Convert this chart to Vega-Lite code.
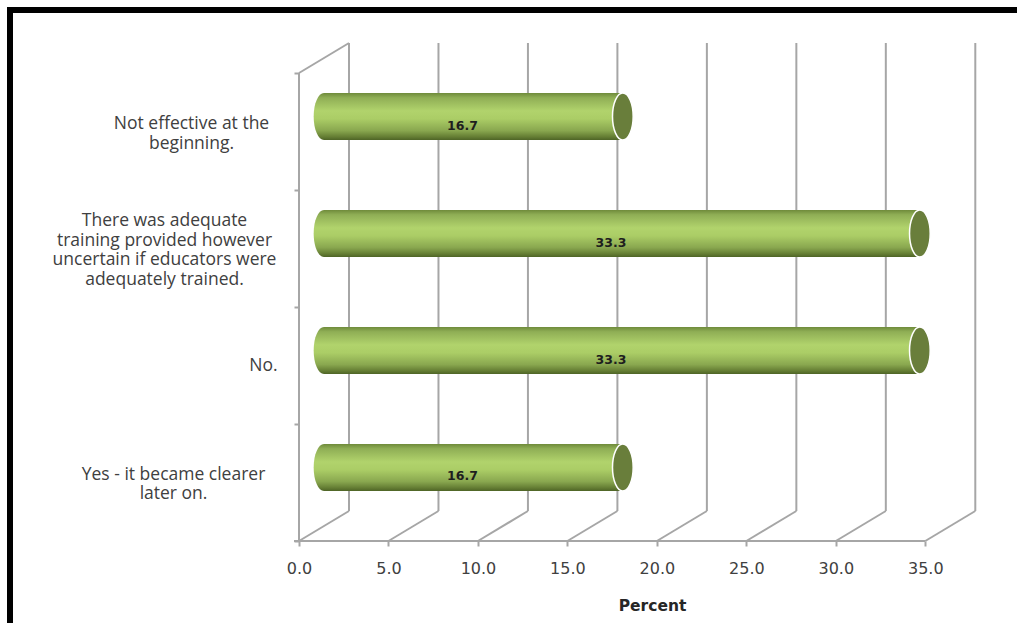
{
  "$schema": "https://vega.github.io/schema/vega-lite/v6.json",
  "width": 1007,
  "height": 613,
  "autosize": {"type": "none"},
  "padding": {"left": 10, "top": 10, "right": 0, "bottom": 0},
  "background": "white",
  "config": {
    "view": {"stroke": "#000000", "strokeWidth": 6, "strokeDash": [1007, 1620, 613, 0], "strokeCap": "square", "fill": "white"}
  },
  "datasets": {
    "answers": [
      {"answer": "Not effective at the\nbeginning.", "percent": 16.7},
      {"answer": "There was adequate\ntraining provided however\nuncertain if educators were\nadequately trained.", "percent": 33.3},
      {"answer": "No.", "percent": 33.3},
      {"answer": "Yes - it became clearer\nlater on.", "percent": 16.7}
    ],
    "ticks": [{"t": 0}, {"t": 5}, {"t": 10}, {"t": 15}, {"t": 20}, {"t": 25}, {"t": 30}, {"t": 35}]
  },
  "resolve": {"scale": {"x": "independent", "y": "independent"}},
  "layer": [
    {
      "layer": [
        {
          "data": {"name": "ticks"},
          "mark": {"type": "rule", "color": "#a6a6a6", "strokeWidth": 2, "xOffset": 50, "yOffset": -30, "y2Offset": -30},
          "encoding": {
            "x": {"field": "t", "type": "quantitative", "scale": {"domain": [-16.1507, 40.1252], "nice": false, "zero": false}, "axis": null},
            "y": {"datum": 0, "type": "quantitative", "scale": {"domain": [-0.70085, 4.53846], "nice": false, "zero": false}, "axis": null},
            "y2": {"datum": 4}
          }
        },
        {
          "data": {"name": "ticks"},
          "mark": {"type": "rule", "color": "#a6a6a6", "strokeWidth": 2, "x2Offset": 50, "y2Offset": -30},
          "encoding": {
            "x": {"field": "t", "type": "quantitative"},
            "x2": {"field": "t"},
            "y": {"datum": 0, "type": "quantitative"},
            "y2": {"datum": 0}
          }
        },
        {
          "data": {"values": [{}]},
          "mark": {"type": "rule", "color": "#a6a6a6", "strokeWidth": 2, "x2Offset": 50, "y2Offset": -30},
          "encoding": {
            "x": {"datum": 0, "type": "quantitative"},
            "x2": {"datum": 0},
            "y": {"datum": 4, "type": "quantitative"},
            "y2": {"datum": 4}
          }
        },
        {
          "data": {"values": [{}]},
          "mark": {"type": "rule", "color": "#a6a6a6", "strokeWidth": 2},
          "encoding": {
            "x": {"datum": 0, "type": "quantitative"},
            "y": {"datum": 0, "type": "quantitative"},
            "y2": {"datum": 4}
          }
        },
        {
          "data": {"values": [{}]},
          "mark": {"type": "rule", "color": "#a6a6a6", "strokeWidth": 2},
          "encoding": {
            "x": {"datum": 0, "type": "quantitative"},
            "x2": {"datum": 35},
            "y": {"datum": 0, "type": "quantitative"}
          }
        },
        {
          "data": {"values": [{}]},
          "mark": {"type": "rule", "color": "#a6a6a6", "strokeWidth": 2, "x2Offset": -5},
          "encoding": {
            "x": {"datum": 0, "type": "quantitative"},
            "x2": {"datum": 0},
            "y": {"datum": 0, "type": "quantitative"},
            "y2": {"datum": 0}
          }
        }
      ]
    },
    {
      "data": {"name": "answers"},
      "layer": [
        {
          "mark": {
            "type": "point",
            "shape": "M0,-1A0.44,1,0,1,1,0,1A0.44,1,0,1,1,0,-1Z",
            "size": 2209,
            "filled": true,
            "opacity": 1,
            "strokeWidth": 0,
            "xOffset": 25,
            "yOffset": -15,
            "fill": {"gradient": "linear", "x1": 0, "y1": 0, "x2": 0, "y2": 1, "stops": [
              {"offset": 0, "color": "#6f8b3b"}, {"offset": 0.1, "color": "#8fae55"}, {"offset": 0.38, "color": "#b1d36c"},
              {"offset": 0.55, "color": "#abcd66"}, {"offset": 0.8, "color": "#89a74f"}, {"offset": 0.93, "color": "#657e34"}, {"offset": 1, "color": "#4e6426"}]}
          },
          "encoding": {
            "x": {"datum": 0, "type": "quantitative", "scale": {"domain": [-16.1507, 40.1252], "nice": false, "zero": false}},
            "y": {
              "field": "answer", "type": "nominal", "sort": null,
              "scale": {"type": "band", "paddingInner": 0, "paddingOuter": 0.6197, "align": 0.4345},
              "axis": {
                "title": null, "orient": "left", "offset": -289, "domain": false, "grid": false,
                "tickBand": "extent", "tickSize": 5, "tickColor": "#a6a6a6", "tickWidth": 2,
                "labelExpr": "split(datum.label, '\\n')", "labelAlign": "center", "labelBaseline": "middle",
                "labelOffset": {"condition": [
                  {"test": "length(split(datum.label, '\\n')) == 4", "value": -28},
                  {"test": "length(split(datum.label, '\\n')) == 2", "value": -8}
                ], "value": 0},
                "labelPadding": {"condition": [
                  {"test": "datum.label == 'No.'", "value": 31},
                  {"test": "indexof(datum.label, 'adequate') >= 0", "value": 130},
                  {"test": "indexof(datum.label, 'Yes') == 0", "value": 121}
                ], "value": 103},
                "labelLineHeight": 19.5, "labelLimit": 400,
                "labelFont": "Open Sans", "labelFontSize": 17.5, "labelColor": "#404040"
              }
            }
          }
        },
        {
          "mark": {
            "type": "bar", "size": 47, "xOffset": 25, "x2Offset": 25, "yOffset": -15, "y2Offset": -15,
            "fill": {"gradient": "linear", "x1": 0, "y1": 0, "x2": 0, "y2": 1, "stops": [
              {"offset": 0, "color": "#6f8b3b"}, {"offset": 0.1, "color": "#8fae55"}, {"offset": 0.38, "color": "#b1d36c"},
              {"offset": 0.55, "color": "#abcd66"}, {"offset": 0.8, "color": "#89a74f"}, {"offset": 0.93, "color": "#657e34"}, {"offset": 1, "color": "#4e6426"}]}
          },
          "encoding": {
            "x": {
              "field": "percent", "type": "quantitative",
              "axis": {
                "orient": "bottom",
                "values": [0, 5, 10, 15, 20, 25, 30, 35], "format": ".1f", "offset": -82,
                "domain": false, "grid": false, "tickSize": 5, "tickColor": "#a6a6a6", "tickWidth": 2,
                "labelFont": "DejaVu Sans", "labelFontSize": 16, "labelColor": "#404040", "labelPadding": 14,
                "title": "Percent", "titleFont": "DejaVu Sans", "titleFontSize": 15.5, "titleFontWeight": "bold",
                "titleColor": "#262626", "titleX": 642, "titleY": 64, "titleBaseline": "middle", "titleAlign": "center"
              }
            },
            "y": {"field": "answer", "type": "nominal", "sort": null}
          }
        },
        {
          "mark": {
            "type": "point",
            "shape": "M0,-1A0.44,1,0,1,1,0,1A0.44,1,0,1,1,0,-1Z",
            "size": 2209, "filled": true, "opacity": 1,
            "fill": "#697e3b", "stroke": "#ffffff", "strokeWidth": 1.5,
            "xOffset": 25, "yOffset": -15
          },
          "encoding": {
            "x": {"field": "percent", "type": "quantitative"},
            "y": {"field": "answer", "type": "nominal", "sort": null}
          }
        }
      ]
    },
    {
      "data": {"name": "answers"},
      "mark": {"type": "text", "font": "DejaVu Sans", "fontWeight": "bold", "fontSize": 12.5, "color": "#1e1e1e", "xOffset": 14, "yOffset": -6},
      "encoding": {
        "x": {"field": "percent", "type": "quantitative", "scale": {"domain": [-32.3014, 80.2504], "nice": false, "zero": false}, "axis": null},
        "y": {"field": "answer", "type": "nominal", "sort": null, "scale": {"type": "band", "paddingInner": 0, "paddingOuter": 0.6197, "align": 0.4345}, "axis": null},
        "text": {"field": "percent", "type": "quantitative", "format": ".1f"}
      }
    }
  ]
}
